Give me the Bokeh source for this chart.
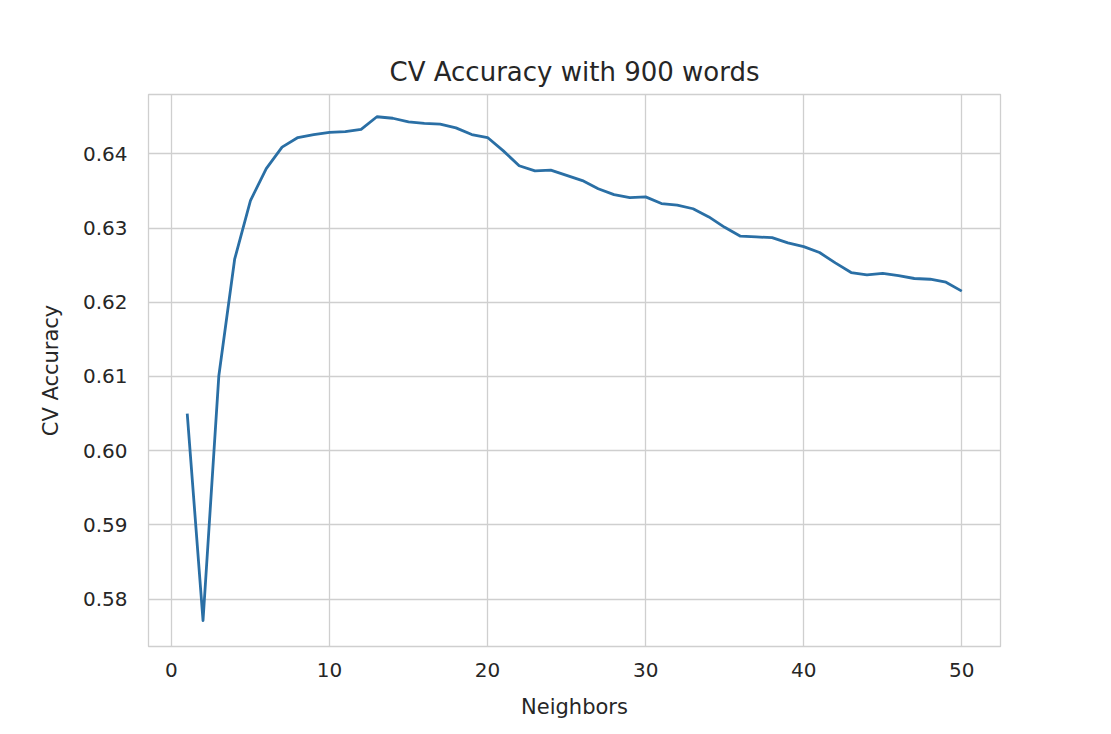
from bokeh.plotting import figure
from bokeh.models import Range1d, FixedTicker, PrintfTickFormatter, BoxAnnotation
from bokeh.embed import file_html
from bokeh.resources import INLINE

neighbors = [1, 2, 3, 4, 5, 6, 7, 8, 9, 10,
             11, 12, 13, 14, 15, 16, 17, 18, 19, 20,
             21, 22, 23, 24, 25, 26, 27, 28, 29, 30,
             31, 32, 33, 34, 35, 36, 37, 38, 39, 40,
             41, 42, 43, 44, 45, 46, 47, 48, 49, 50]
cv_accuracy = [0.6050, 0.5771, 0.6101, 0.6258, 0.6337, 0.6380, 0.6409, 0.6422, 0.6426, 0.6429,
               0.6430, 0.6433, 0.6450, 0.6448, 0.6443, 0.6441, 0.6440, 0.6435, 0.6426, 0.6422,
               0.6404, 0.6384, 0.6377, 0.6378, 0.6371, 0.6364, 0.6353, 0.6345, 0.6341, 0.6342,
               0.6333, 0.6331, 0.6326, 0.6315, 0.6301, 0.6289, 0.6288, 0.6287, 0.6280, 0.6275,
               0.6267, 0.6253, 0.6240, 0.6237, 0.6239, 0.6236, 0.6232, 0.6231, 0.6227, 0.6215]
x_ticks = [0, 10, 20, 30, 40, 50]
y_ticks = [0.58, 0.59, 0.60, 0.61, 0.62, 0.63, 0.64]

TEXT = "#262626"
GRID = "#cfcfcf"
FONT = "DejaVu Sans"
FRAME = "#1e1e1e"

p = figure(width=1111, height=734, output_backend="svg", toolbar_location=None,
           x_range=Range1d(-1.45, 52.45), y_range=Range1d(0.5736, 0.6480),
           title="CV Accuracy with 900 words",
           min_border_left=148, min_border_right=111, min_border_top=94, min_border_bottom=88)

p.line(neighbors, cv_accuracy, line_color="#2a6fa5", line_width=2.8, line_join="round")

p.title.align = "center"
p.title.text_font = FONT
p.title.text_font_size = "26px"
p.title.text_font_style = "normal"
p.title.text_color = TEXT
p.title.standoff = 16

p.xaxis.ticker = FixedTicker(ticks=x_ticks)
p.yaxis.ticker = FixedTicker(ticks=y_ticks)
p.yaxis.formatter = PrintfTickFormatter(format="%.2f")

for ax in (p.xaxis, p.yaxis):
    ax.axis_line_color = None
    ax.major_tick_line_color = None
    ax.minor_tick_line_color = None
    ax.major_tick_out = 0
    ax.major_tick_in = 0
    ax.major_label_text_font = FONT
    ax.major_label_text_font_size = "20px"
    ax.major_label_text_color = TEXT
    ax.axis_label_text_font = FONT
    ax.axis_label_text_font_size = "21px"
    ax.axis_label_text_font_style = "normal"
    ax.axis_label_text_color = TEXT

p.xaxis.axis_label = "Neighbors"
p.yaxis.axis_label = "CV Accuracy"
p.xaxis.major_label_standoff = 16
p.yaxis.major_label_standoff = 21
p.xaxis.axis_label_standoff = 15
p.yaxis.axis_label_standoff = 17

p.xgrid.grid_line_color = GRID
p.ygrid.grid_line_color = GRID
p.xgrid.grid_line_width = 1.3
p.ygrid.grid_line_width = 1.3
p.outline_line_color = GRID
p.outline_line_width = 1.3
p.background_fill_color = "white"
p.border_fill_color = "white"

# dark screenshot frame around the image
for l, r, t, b in [(0, 8, 0, 734), (0, 1111, 0, 4), (1106, 1111, 0, 734)]:
    p.add_layout(BoxAnnotation(left=l, right=r, top=t, bottom=b,
                               left_units="canvas", right_units="canvas",
                               top_units="canvas", bottom_units="canvas",
                               fill_color=FRAME, fill_alpha=1.0, line_color=None,
                               level="overlay"))

open("out.html", "w").write(file_html(p, INLINE))
